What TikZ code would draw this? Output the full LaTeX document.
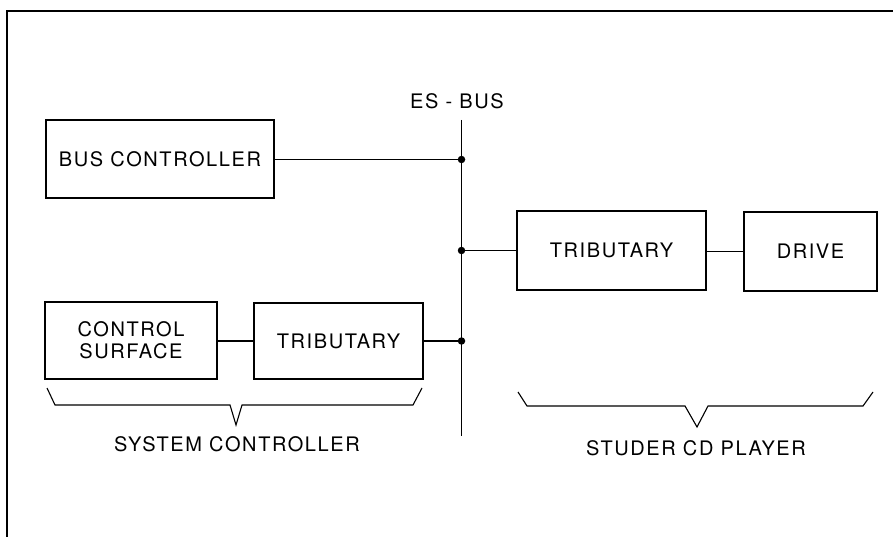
\documentclass[tikz,border=0pt]{standalone}
\usepackage{fontspec}
\newfontfamily\lblfont[LetterSpace=8]{TeX Gyre Heros}
\begin{document}
\begin{tikzpicture}[x=1pt,y=-1pt,
  blk/.style={draw,line width=1.6pt,inner sep=0pt,font=\lblfont\fontsize{20}{22}\selectfont,align=center},
  lbl/.style={inner sep=0pt,font=\lblfont\fontsize{20}{22}\selectfont},
  wire/.style={line width=1.1pt},
  brc/.style={line width=1.1pt,line join=miter},
  dot/.style={circle,fill,inner sep=0pt,minimum size=7.5pt}]
\useasboundingbox (0,0) rectangle (893,537);
% frame
\draw[line width=1.4pt] (7,537) -- (7,11) -- (893,11);
% blocks
\node[blk,minimum width=228pt,minimum height=78pt] (bc) at (160,159) {BUS CONTROLLER};
\node[blk,minimum width=172pt,minimum height=77pt] (cs) at (131,340.5) {CONTROL\\SURFACE};
\node[blk,minimum width=169pt,minimum height=76pt] (st) at (338.5,341) {TRIBUTARY};
\node[blk,minimum width=189pt,minimum height=79pt] (rt) at (611.5,250.5) {TRIBUTARY};
\node[blk,minimum width=133pt,minimum height=79pt] (dr) at (810.5,251.5) {DRIVE};
% bus
\coordinate (btop) at (461.5,120);
\coordinate (bbot) at (461.5,436);
\draw[wire] (btop) -- (bbot);
\node[lbl] (es) at (457,101) {ES - BUS};
\node[dot] (j1) at (461.5,159.5) {};
\node[dot] (j2) at (461.5,250.5) {};
\node[dot] (j3) at (461.5,341) {};
% connections
\draw[wire] (bc.east |- j1) -- (j1.center);
\draw[wire] (j2.center) -- (rt.west |- j2);
\draw[wire] (st.east |- j3) -- (j3.center);
\draw[wire] (cs.east |- st.west) -- (st.west);
\draw[wire] (rt.east |- dr.west) -- (dr.west);
% braces
\draw[brc] (47,388) -- (55,405) -- (230,405) -- (236,425) -- (242,405) -- (413,405) -- (422,388);
\draw[brc] (518,392) -- (527,406) -- (685,406) -- (697,427) -- (708,406) -- (863,406) -- (873,392);
\node[lbl] (sc) at (237,444.5) {SYSTEM CONTROLLER};
\node[lbl] (sp) at (696,448.5) {STUDER CD PLAYER};
\end{tikzpicture}
\end{document}
